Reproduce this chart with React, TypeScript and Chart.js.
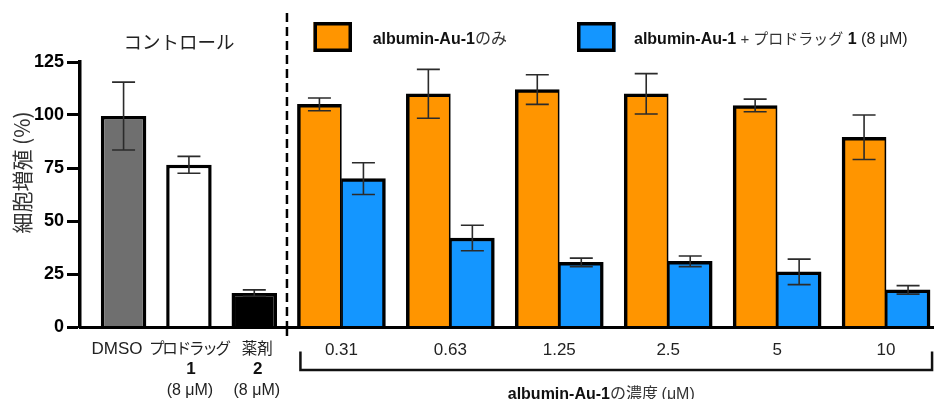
import React, { useEffect, useRef } from 'react';
import { Chart, registerables } from 'chart.js';

Chart.register(...registerables);

// ---------- data ----------
const controlLabels = ['DMSO', 'プロドラッグ', '薬剤'];
const controlSubLabels = ['', '1', '2'];
const controlDoses = ['', '(8 μM)', '(8 μM)'];
const controlValues = [99.5, 76.5, 16];
const controlErrors = [16, 4, 1.5];
const controlColors = ['#6f6f6f', '#ffffff', '#000000'];

const concentrations = ['0.31', '0.63', '1.25', '2.5', '5', '10'];
const aloneValues = [105, 110, 112, 110, 104.5, 89.5];
const aloneErrors = [3, 11.5, 7, 9.5, 3, 10.5];
const comboValues = [70, 42, 30.5, 31, 26, 17.5];
const comboErrors = [7.5, 6, 2, 2.5, 6, 2];

const yTicks = [0, 25, 50, 75, 100, 125];

const seriesNames = ['albumin-Au-1のみ', 'albumin-Au-1 + プロドラッグ 1 (8 μM)'];
const controlTitle = 'コントロール';
const yTitle = '細胞増殖 (%)';

// ---------- layout / style ----------
const ORANGE = '#ff9500';
const BLUE = '#1496ff';
const LAT = '"Liberation Sans", Arial, sans-serif';
const JP = '"Noto Sans CJK JP", "Noto Sans CJK SC", sans-serif';
const CTRL_START = 2;
const CTRL_STEP = 3;
const GRP_START = 12;
const GRP_STEP = 5;
const X_MAX = 39.2;
const DIVIDER = 9.5;
const BW = 3.5;

type Run = { t: string; font: string; color?: string; ls?: number };

function runsWidth(ctx: CanvasRenderingContext2D, runs: Run[]) {
  let w = 0;
  for (const r of runs) {
    ctx.font = r.font;
    (ctx as any).letterSpacing = (r.ls || 0) + 'px';
    w += ctx.measureText(r.t).width;
  }
  (ctx as any).letterSpacing = '0px';
  return w;
}

function drawRuns(ctx: CanvasRenderingContext2D, runs: Run[], x: number, y: number, align: 'left' | 'center') {
  const w = runsWidth(ctx, runs);
  let cx = align === 'center' ? x - w / 2 : x;
  ctx.textAlign = 'left';
  ctx.textBaseline = 'alphabetic';
  for (const r of runs) {
    ctx.font = r.font;
    (ctx as any).letterSpacing = (r.ls || 0) + 'px';
    ctx.fillStyle = r.color || '#111';
    ctx.fillText(r.t, cx, y);
    cx += ctx.measureText(r.t).width;
  }
  (ctx as any).letterSpacing = '0px';
}

const errorBarPlugin = {
  id: 'errorBars',
  afterDatasetsDraw(chart: any) {
    const ctx: CanvasRenderingContext2D = chart.ctx;
    const ys = chart.scales.y;
    chart.data.datasets.forEach((ds: any, di: number) => {
      const meta = chart.getDatasetMeta(di);
      meta.data.forEach((bar: any, i: number) => {
        const v = ds.data[i].y;
        const e = ds.errors[i];
        const yt = ys.getPixelForValue(v + e);
        const yb = ys.getPixelForValue(v - e);
        const x = bar.x;
        ctx.save();
        ctx.strokeStyle = '#2b2b2b';
        ctx.lineWidth = 1.6;
        ctx.beginPath();
        ctx.moveTo(x, yt);
        ctx.lineTo(x, yb);
        ctx.moveTo(x - 11.5, yt);
        ctx.lineTo(x + 11.5, yt);
        ctx.moveTo(x - 11.5, yb);
        ctx.lineTo(x + 11.5, yb);
        ctx.stroke();
        ctx.restore();
      });
    });
  },
};

const annotationPlugin = {
  id: 'annotations',
  afterDraw(chart: any) {
    const ctx: CanvasRenderingContext2D = chart.ctx;
    const xs = chart.scales.x;
    const area = chart.chartArea;
    ctx.save();

    // dashed divider
    const dx = xs.getPixelForValue(DIVIDER);
    ctx.strokeStyle = '#000';
    ctx.lineWidth = 2.5;
    ctx.setLineDash([9, 5]);
    ctx.beginPath();
    ctx.moveTo(dx, 13);
    ctx.lineTo(dx, area.bottom);
    ctx.stroke();
    ctx.setLineDash([]);
    ctx.beginPath();
    ctx.moveTo(dx, area.bottom);
    ctx.lineTo(dx, area.bottom + 9);
    ctx.stroke();

    // control title
    ctx.fillStyle = '#222';
    ctx.font = `18.5px ${JP}`;
    ctx.textAlign = 'center';
    ctx.textBaseline = 'middle';
    const cMid = xs.getPixelForValue(CTRL_START + CTRL_STEP);
    ctx.fillText(controlTitle, cMid - 10, 42);

    // y title
    ctx.save();
    ctx.translate(22.5, 172.5);
    ctx.rotate(-Math.PI / 2);
    ctx.font = `21px ${JP}`;
    ctx.fillStyle = '#333';
    ctx.textAlign = 'center';
    ctx.textBaseline = 'middle';
    ctx.fillText(yTitle, 0, 0);
    ctx.restore();

    // legend
    const boxes = [
      { x: 313.5, color: ORANGE },
      { x: 577, color: BLUE },
    ];
    boxes.forEach((b) => {
      ctx.fillStyle = b.color;
      ctx.fillRect(b.x, 22, 38.5, 30);
      ctx.strokeStyle = '#000';
      ctx.lineWidth = 3.5;
      ctx.strokeRect(b.x + 1.75, 23.75, 35, 26.5);
    });
    const boldL = `bold 16px ${LAT}`;
    drawRuns(ctx, [
      { t: 'albumin-Au-1', font: boldL, color: '#111' },
      { t: 'のみ', font: `16px ${JP}`, color: '#333' },
    ], 372.7, 43.5, 'left');
    drawRuns(ctx, [
      { t: 'albumin-Au-1', font: boldL, color: '#111' },
      { t: ' + ', font: `15px ${LAT}`, color: '#333' },
      { t: 'プロドラッグ', font: `15px ${JP}`, color: '#333' },
      { t: ' 1', font: boldL, color: '#111' },
      { t: ' (8 μM)', font: `16px ${LAT}`, color: '#222' },
    ], 634, 43.5, 'left');

    // control x labels
    controlLabels.forEach((lab, i) => {
      const cx = xs.getPixelForValue(CTRL_START + CTRL_STEP * i);
      const isJp = /[^\x00-\x7f]/.test(lab);
      const font = isJp ? `15.5px ${JP}` : `17px ${LAT}`;
      const ls = lab.length > 3 && isJp ? -2.2 : 0;
      const nudge = i === 0 ? -6.5 : i === 2 ? 3 : 0;
      drawRuns(ctx, [{ t: lab, font, color: '#222', ls }], cx + nudge, 354, 'center');
      if (controlSubLabels[i]) {
        drawRuns(ctx, [{ t: controlSubLabels[i], font: `bold 17px ${LAT}`, color: '#111' }], cx + 2 + nudge / 2, 373.5, 'center');
      }
      if (controlDoses[i]) {
        drawRuns(ctx, [{ t: controlDoses[i], font: `16px ${LAT}`, color: '#222' }], cx + 1 + nudge / 2, 394.5, 'center');
      }
    });

    // concentration labels
    concentrations.forEach((lab, j) => {
      const cx = xs.getPixelForValue(GRP_START + GRP_STEP * j);
      drawRuns(ctx, [{ t: lab, font: `17px ${LAT}`, color: '#222' }], cx, 355, 'center');
    });

    // bracket
    const bl = xs.getPixelForValue(GRP_START) - 41;
    const br = xs.getPixelForValue(GRP_START + GRP_STEP * (concentrations.length - 1)) + 46;
    ctx.strokeStyle = '#111';
    ctx.lineWidth = 2.5;
    ctx.beginPath();
    ctx.moveTo(bl, 351.5);
    ctx.lineTo(bl, 370);
    ctx.lineTo(br, 370);
    ctx.lineTo(br, 351.5);
    ctx.stroke();

    drawRuns(ctx, [
      { t: 'albumin-Au-1', font: boldL, color: '#111' },
      { t: 'の濃度 ', font: `16px ${JP}`, color: '#333' },
      { t: '(μM)', font: `16px ${LAT}`, color: '#333' },
    ], (bl + br) / 2 - 15, 399, 'center');

    ctx.restore();
  },
};

export default function App() {
  const ref = useRef<HTMLCanvasElement>(null);

  useEffect(() => {
    document.body.style.margin = '0';
    const canvas = ref.current;
    if (!canvas) return;

    const chart = new Chart(canvas, {
      type: 'bar',
      data: {
        datasets: [
          {
            label: controlTitle,
            data: controlValues.map((v, i) => ({ x: CTRL_START + CTRL_STEP * i, y: v })),
            errors: controlErrors,
            backgroundColor: controlColors,
            borderColor: '#000',
            borderWidth: BW,
            borderSkipped: 'bottom',
            grouped: false,
            maxBarThickness: 45.5,
          } as any,
          {
            label: seriesNames[0],
            data: aloneValues.map((v, j) => ({ x: GRP_START + GRP_STEP * j, y: v })),
            errors: aloneErrors,
            backgroundColor: ORANGE,
            borderColor: '#000',
            borderWidth: { top: BW, left: BW, right: 1.75, bottom: 0 },
            borderSkipped: 'bottom',
            barThickness: 44,
          } as any,
          {
            label: seriesNames[1],
            data: comboValues.map((v, j) => ({ x: GRP_START + GRP_STEP * j, y: v })),
            errors: comboErrors,
            backgroundColor: BLUE,
            borderColor: '#000',
            borderWidth: { top: BW, left: 1.75, right: BW, bottom: 0 },
            borderSkipped: 'bottom',
            barThickness: 44,
          } as any,
        ],
      },
      options: {
        animation: false,
        responsive: true,
        maintainAspectRatio: false,
        layout: { padding: { top: 62, left: 0, right: 0, bottom: 0 } },
        plugins: {
          legend: { display: false },
          tooltip: { enabled: false },
          title: { display: false },
        },
        scales: {
          x: {
            type: 'linear',
            min: 0,
            max: X_MAX,
            offset: false,
            ticks: { display: false, stepSize: 1000 },
            grid: { drawOnChartArea: false, drawTicks: false },
            border: { display: true, width: 3, color: '#000', z: 1 } as any,
            afterFit: (s: any) => {
              s.height = 72;
              s.paddingLeft = 0;
              s.paddingRight = 0;
            },
          },
          y: {
            min: 0,
            max: 125,
            afterBuildTicks: (s: any) => {
              s.ticks = yTicks.map((v) => ({ value: v }));
            },
            ticks: {
              font: { family: LAT, size: 18, weight: 'bold' },
              color: '#000',
              padding: 3,
            },
            grid: {
              drawOnChartArea: false,
              drawTicks: true,
              tickLength: 13,
              tickWidth: 3,
              tickColor: '#000',
            },
            border: { display: true, width: 3.5, color: '#000', z: 1 } as any,
            afterFit: (s: any) => {
              s.width = 80;
              s.paddingTop = 0;
              s.paddingBottom = 0;
            },
          },
        },
      } as any,
      plugins: [errorBarPlugin, annotationPlugin],
    });

    return () => chart.destroy();
  }, []);

  return (
    <div style={{ width: 934, height: 399, position: 'relative' }}>
      <canvas ref={ref} />
    </div>
  );
}
